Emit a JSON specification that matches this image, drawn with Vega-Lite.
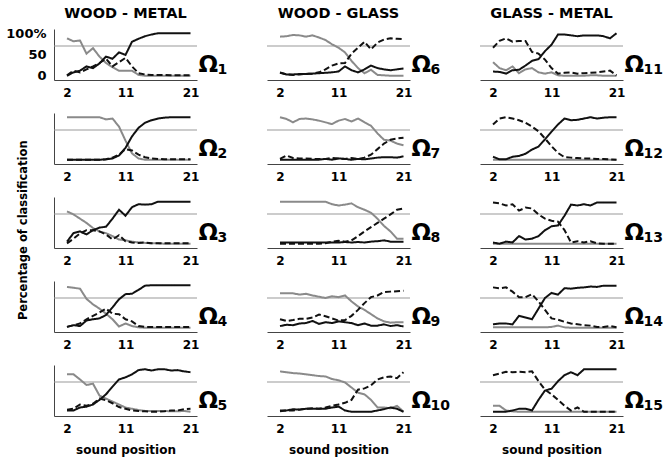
{
"$schema": "https://vega.github.io/schema/vega-lite/v6.json",
"background": "white",
"padding": 5,
"title": {"text": "Percentage of classification", "orient": "left", "anchor": "middle", "font": "DejaVu Sans", "fontWeight": "bold", "fontSize": 11.5, "color": "#000000", "offset": -24},
"datasets": {"d": [
{"p":1,"x":2,"w":88,"m":0,"g":1},{"p":1,"x":3,"w":81,"m":8,"g":12},{"p":1,"x":4,"w":83,"m":12,"g":8},{"p":1,"x":5,"w":52,"m":22,"g":15},{"p":1,"x":6,"w":65,"m":18,"g":22},{"p":1,"x":7,"w":45,"m":29,"g":30},{"p":1,"x":8,"w":30,"m":45,"g":40},{"p":1,"x":9,"w":20,"m":40,"g":22},{"p":1,"x":10,"w":12,"m":55,"g":32},{"p":1,"x":11,"w":12,"m":49,"g":42},{"p":1,"x":12,"w":12,"m":80,"g":22},{"p":1,"x":13,"w":2,"m":87,"g":6},{"p":1,"x":14,"w":0,"m":93,"g":3},{"p":1,"x":15,"w":0,"m":97,"g":2},{"p":1,"x":16,"w":0,"m":100,"g":2},{"p":1,"x":17,"w":0,"m":100,"g":2},{"p":1,"x":18,"w":0,"m":100,"g":1},{"p":1,"x":19,"w":0,"m":100,"g":1},{"p":1,"x":20,"w":0,"m":100,"g":1},{"p":1,"x":21,"w":0,"m":100,"g":1},
{"p":2,"x":2,"w":100,"m":0,"g":0},{"p":2,"x":3,"w":100,"m":0,"g":0},{"p":2,"x":4,"w":100,"m":0,"g":0},{"p":2,"x":5,"w":100,"m":0,"g":0},{"p":2,"x":6,"w":100,"m":0,"g":0},{"p":2,"x":7,"w":100,"m":0,"g":0},{"p":2,"x":8,"w":95,"m":1,"g":1},{"p":2,"x":9,"w":97,"m":3,"g":5},{"p":2,"x":10,"w":78,"m":10,"g":12},{"p":2,"x":11,"w":45,"m":28,"g":25},{"p":2,"x":12,"w":15,"m":55,"g":22},{"p":2,"x":13,"w":3,"m":75,"g":12},{"p":2,"x":14,"w":0,"m":87,"g":6},{"p":2,"x":15,"w":0,"m":93,"g":3},{"p":2,"x":16,"w":0,"m":97,"g":2},{"p":2,"x":17,"w":0,"m":99,"g":1},{"p":2,"x":18,"w":0,"m":100,"g":1},{"p":2,"x":19,"w":0,"m":100,"g":1},{"p":2,"x":20,"w":0,"m":100,"g":1},{"p":2,"x":21,"w":0,"m":100,"g":1},
{"p":3,"x":2,"w":76,"m":5,"g":1},{"p":3,"x":3,"w":69,"m":25,"g":12},{"p":3,"x":4,"w":59,"m":29,"g":24},{"p":3,"x":5,"w":49,"m":22,"g":32},{"p":3,"x":6,"w":37,"m":32,"g":32},{"p":3,"x":7,"w":29,"m":38,"g":29},{"p":3,"x":8,"w":25,"m":40,"g":22},{"p":3,"x":9,"w":18,"m":59,"g":10},{"p":3,"x":10,"w":10,"m":80,"g":20},{"p":3,"x":11,"w":8,"m":66,"g":6},{"p":3,"x":12,"w":5,"m":86,"g":3},{"p":3,"x":13,"w":3,"m":93,"g":2},{"p":3,"x":14,"w":2,"m":92,"g":3},{"p":3,"x":15,"w":1,"m":93,"g":1},{"p":3,"x":16,"w":1,"m":99,"g":1},{"p":3,"x":17,"w":0,"m":99,"g":1},{"p":3,"x":18,"w":0,"m":99,"g":1},{"p":3,"x":19,"w":0,"m":99,"g":1},{"p":3,"x":20,"w":0,"m":99,"g":1},{"p":3,"x":21,"w":0,"m":99,"g":1},
{"p":4,"x":2,"w":96,"m":2,"g":2},{"p":4,"x":3,"w":94,"m":6,"g":6},{"p":4,"x":4,"w":92,"m":4,"g":10},{"p":4,"x":5,"w":68,"m":17,"g":20},{"p":4,"x":6,"w":55,"m":20,"g":28},{"p":4,"x":7,"w":45,"m":22,"g":36},{"p":4,"x":8,"w":33,"m":30,"g":45},{"p":4,"x":9,"w":20,"m":48,"g":33},{"p":4,"x":10,"w":3,"m":67,"g":32},{"p":4,"x":11,"w":10,"m":79,"g":20},{"p":4,"x":12,"w":4,"m":80,"g":15},{"p":4,"x":13,"w":1,"m":89,"g":4},{"p":4,"x":14,"w":0,"m":99,"g":2},{"p":4,"x":15,"w":0,"m":100,"g":2},{"p":4,"x":16,"w":0,"m":100,"g":2},{"p":4,"x":17,"w":0,"m":100,"g":2},{"p":4,"x":18,"w":0,"m":100,"g":2},{"p":4,"x":19,"w":0,"m":100,"g":2},{"p":4,"x":20,"w":0,"m":100,"g":2},{"p":4,"x":21,"w":0,"m":100,"g":2},
{"p":5,"x":2,"w":88,"m":3,"g":5},{"p":5,"x":3,"w":88,"m":3,"g":7},{"p":5,"x":4,"w":76,"m":10,"g":17},{"p":5,"x":5,"w":63,"m":12,"g":14},{"p":5,"x":6,"w":66,"m":17,"g":19},{"p":5,"x":7,"w":38,"m":28,"g":31},{"p":5,"x":8,"w":31,"m":41,"g":27},{"p":5,"x":9,"w":24,"m":59,"g":20},{"p":5,"x":10,"w":17,"m":76,"g":11},{"p":5,"x":11,"w":10,"m":81,"g":7},{"p":5,"x":12,"w":7,"m":88,"g":3},{"p":5,"x":13,"w":4,"m":98,"g":2},{"p":5,"x":14,"w":2,"m":100,"g":1},{"p":5,"x":15,"w":2,"m":97,"g":0},{"p":5,"x":16,"w":2,"m":100,"g":0},{"p":5,"x":17,"w":2,"m":100,"g":1},{"p":5,"x":18,"w":1,"m":97,"g":3},{"p":5,"x":19,"w":1,"m":98,"g":3},{"p":5,"x":20,"w":2,"m":95,"g":6},{"p":5,"x":21,"w":0,"m":93,"g":7},
{"p":6,"x":2,"w":92,"m":7,"g":8},{"p":6,"x":3,"w":93,"m":3,"g":3},{"p":6,"x":4,"w":96,"m":3,"g":2},{"p":6,"x":5,"w":95,"m":4,"g":3},{"p":6,"x":6,"w":92,"m":4,"g":5},{"p":6,"x":7,"w":95,"m":5,"g":5},{"p":6,"x":8,"w":90,"m":6,"g":8},{"p":6,"x":9,"w":84,"m":7,"g":15},{"p":6,"x":10,"w":74,"m":8,"g":24},{"p":6,"x":11,"w":66,"m":10,"g":29},{"p":6,"x":12,"w":55,"m":22,"g":30},{"p":6,"x":13,"w":35,"m":13,"g":52},{"p":6,"x":14,"w":18,"m":8,"g":66},{"p":6,"x":15,"w":6,"m":15,"g":80},{"p":6,"x":16,"w":14,"m":24,"g":62},{"p":6,"x":17,"w":2,"m":18,"g":78},{"p":6,"x":18,"w":1,"m":15,"g":85},{"p":6,"x":19,"w":0,"m":13,"g":88},{"p":6,"x":20,"w":0,"m":15,"g":87},{"p":6,"x":21,"w":0,"m":17,"g":86},
{"p":7,"x":2,"w":100,"m":0,"g":2},{"p":7,"x":3,"w":96,"m":0,"g":10},{"p":7,"x":4,"w":88,"m":0,"g":4},{"p":7,"x":5,"w":96,"m":0,"g":3},{"p":7,"x":6,"w":97,"m":0,"g":3},{"p":7,"x":7,"w":95,"m":0,"g":2},{"p":7,"x":8,"w":92,"m":0,"g":2},{"p":7,"x":9,"w":88,"m":2,"g":2},{"p":7,"x":10,"w":84,"m":0,"g":4},{"p":7,"x":11,"w":92,"m":3,"g":3},{"p":7,"x":12,"w":96,"m":2,"g":2},{"p":7,"x":13,"w":90,"m":0,"g":4},{"p":7,"x":14,"w":97,"m":2,"g":2},{"p":7,"x":15,"w":88,"m":1,"g":5},{"p":7,"x":16,"w":80,"m":3,"g":12},{"p":7,"x":17,"w":62,"m":5,"g":25},{"p":7,"x":18,"w":47,"m":6,"g":38},{"p":7,"x":19,"w":45,"m":6,"g":47},{"p":7,"x":20,"w":38,"m":5,"g":50},{"p":7,"x":21,"w":34,"m":8,"g":52},
{"p":8,"x":2,"w":99,"m":3,"g":0},{"p":8,"x":3,"w":99,"m":3,"g":0},{"p":8,"x":4,"w":99,"m":3,"g":0},{"p":8,"x":5,"w":99,"m":3,"g":0},{"p":8,"x":6,"w":99,"m":3,"g":0},{"p":8,"x":7,"w":99,"m":3,"g":0},{"p":8,"x":8,"w":99,"m":3,"g":0},{"p":8,"x":9,"w":99,"m":3,"g":1},{"p":8,"x":10,"w":93,"m":3,"g":5},{"p":8,"x":11,"w":90,"m":3,"g":7},{"p":8,"x":12,"w":92,"m":4,"g":5},{"p":8,"x":13,"w":95,"m":3,"g":8},{"p":8,"x":14,"w":86,"m":4,"g":18},{"p":8,"x":15,"w":80,"m":3,"g":29},{"p":8,"x":16,"w":73,"m":5,"g":39},{"p":8,"x":17,"w":59,"m":6,"g":49},{"p":8,"x":18,"w":42,"m":8,"g":59},{"p":8,"x":19,"w":29,"m":5,"g":69},{"p":8,"x":20,"w":12,"m":5,"g":80},{"p":8,"x":21,"w":12,"m":5,"g":83},
{"p":9,"x":2,"w":81,"m":4,"g":20},{"p":9,"x":3,"w":81,"m":7,"g":16},{"p":9,"x":4,"w":81,"m":6,"g":18},{"p":9,"x":5,"w":78,"m":10,"g":21},{"p":9,"x":6,"w":80,"m":11,"g":21},{"p":9,"x":7,"w":76,"m":16,"g":24},{"p":9,"x":8,"w":73,"m":9,"g":31},{"p":9,"x":9,"w":70,"m":13,"g":27},{"p":9,"x":10,"w":74,"m":11,"g":22},{"p":9,"x":11,"w":72,"m":15,"g":17},{"p":9,"x":12,"w":76,"m":13,"g":18},{"p":9,"x":13,"w":62,"m":11,"g":28},{"p":9,"x":14,"w":50,"m":6,"g":42},{"p":9,"x":15,"w":42,"m":10,"g":58},{"p":9,"x":16,"w":32,"m":5,"g":72},{"p":9,"x":17,"w":22,"m":5,"g":76},{"p":9,"x":18,"w":15,"m":8,"g":84},{"p":9,"x":19,"w":12,"m":4,"g":85},{"p":9,"x":20,"w":13,"m":6,"g":86},{"p":9,"x":21,"w":13,"m":3,"g":87},
{"p":10,"x":2,"w":95,"m":3,"g":1},{"p":10,"x":3,"w":93,"m":3,"g":3},{"p":10,"x":4,"w":91,"m":6,"g":3},{"p":10,"x":5,"w":90,"m":5,"g":5},{"p":10,"x":6,"w":88,"m":7,"g":7},{"p":10,"x":7,"w":86,"m":7,"g":8},{"p":10,"x":8,"w":84,"m":7,"g":7},{"p":10,"x":9,"w":83,"m":7,"g":10},{"p":10,"x":10,"w":77,"m":10,"g":14},{"p":10,"x":11,"w":74,"m":12,"g":17},{"p":10,"x":12,"w":69,"m":3,"g":21},{"p":10,"x":13,"w":57,"m":0,"g":28},{"p":10,"x":14,"w":45,"m":0,"g":52},{"p":10,"x":15,"w":41,"m":0,"g":55},{"p":10,"x":16,"w":28,"m":0,"g":62},{"p":10,"x":17,"w":10,"m":3,"g":76},{"p":10,"x":18,"w":10,"m":6,"g":81},{"p":10,"x":19,"w":8,"m":10,"g":83},{"p":10,"x":20,"w":14,"m":7,"g":79},{"p":10,"x":21,"w":0,"m":0,"g":93},
{"p":11,"x":2,"w":32,"m":10,"g":66},{"p":11,"x":3,"w":18,"m":9,"g":82},{"p":11,"x":4,"w":13,"m":5,"g":88},{"p":11,"x":5,"w":22,"m":13,"g":80},{"p":11,"x":6,"w":6,"m":14,"g":82},{"p":11,"x":7,"w":15,"m":24,"g":82},{"p":11,"x":8,"w":18,"m":35,"g":56},{"p":11,"x":9,"w":8,"m":39,"g":52},{"p":11,"x":10,"w":5,"m":58,"g":38},{"p":11,"x":11,"w":8,"m":73,"g":18},{"p":11,"x":12,"w":1,"m":97,"g":5},{"p":11,"x":13,"w":0,"m":97,"g":7},{"p":11,"x":14,"w":0,"m":95,"g":8},{"p":11,"x":15,"w":0,"m":93,"g":5},{"p":11,"x":16,"w":0,"m":95,"g":6},{"p":11,"x":17,"w":1,"m":95,"g":7},{"p":11,"x":18,"w":1,"m":95,"g":8},{"p":11,"x":19,"w":0,"m":93,"g":10},{"p":11,"x":20,"w":0,"m":88,"g":12},{"p":11,"x":21,"w":0,"m":100,"g":1},
{"p":12,"x":2,"w":0,"m":7,"g":83},{"p":12,"x":3,"w":0,"m":1,"g":97},{"p":12,"x":4,"w":0,"m":1,"g":100},{"p":12,"x":5,"w":0,"m":7,"g":97},{"p":12,"x":6,"w":0,"m":9,"g":93},{"p":12,"x":7,"w":0,"m":14,"g":87},{"p":12,"x":8,"w":0,"m":24,"g":78},{"p":12,"x":9,"w":0,"m":31,"g":67},{"p":12,"x":10,"w":0,"m":48,"g":50},{"p":12,"x":11,"w":0,"m":66,"g":32},{"p":12,"x":12,"w":0,"m":83,"g":16},{"p":12,"x":13,"w":0,"m":97,"g":6},{"p":12,"x":14,"w":0,"m":93,"g":5},{"p":12,"x":15,"w":0,"m":94,"g":4},{"p":12,"x":16,"w":0,"m":97,"g":3},{"p":12,"x":17,"w":0,"m":100,"g":3},{"p":12,"x":18,"w":0,"m":97,"g":2},{"p":12,"x":19,"w":0,"m":99,"g":2},{"p":12,"x":20,"w":0,"m":100,"g":1},{"p":12,"x":21,"w":0,"m":100,"g":0},
{"p":13,"x":2,"w":0,"m":3,"g":97},{"p":13,"x":3,"w":0,"m":0,"g":95},{"p":13,"x":4,"w":0,"m":5,"g":90},{"p":13,"x":5,"w":0,"m":3,"g":93},{"p":13,"x":6,"w":0,"m":18,"g":78},{"p":13,"x":7,"w":0,"m":10,"g":85},{"p":13,"x":8,"w":0,"m":12,"g":83},{"p":13,"x":9,"w":0,"m":18,"g":69},{"p":13,"x":10,"w":0,"m":32,"g":59},{"p":13,"x":11,"w":0,"m":41,"g":54},{"p":13,"x":12,"w":0,"m":43,"g":52},{"p":13,"x":13,"w":0,"m":66,"g":32},{"p":13,"x":14,"w":0,"m":92,"g":3},{"p":13,"x":15,"w":0,"m":90,"g":6},{"p":13,"x":16,"w":0,"m":93,"g":3},{"p":13,"x":17,"w":0,"m":90,"g":6},{"p":13,"x":18,"w":0,"m":97,"g":1},{"p":13,"x":19,"w":0,"m":97,"g":0},{"p":13,"x":20,"w":0,"m":97,"g":0},{"p":13,"x":21,"w":0,"m":97,"g":0},
{"p":14,"x":2,"w":1,"m":8,"g":95},{"p":14,"x":3,"w":1,"m":10,"g":93},{"p":14,"x":4,"w":1,"m":10,"g":95},{"p":14,"x":5,"w":1,"m":8,"g":85},{"p":14,"x":6,"w":1,"m":28,"g":72},{"p":14,"x":7,"w":1,"m":24,"g":72},{"p":14,"x":8,"w":1,"m":20,"g":79},{"p":14,"x":9,"w":1,"m":45,"g":62},{"p":14,"x":10,"w":1,"m":70,"g":42},{"p":14,"x":11,"w":2,"m":82,"g":22},{"p":14,"x":12,"w":5,"m":78,"g":19},{"p":14,"x":13,"w":1,"m":93,"g":14},{"p":14,"x":14,"w":0,"m":92,"g":10},{"p":14,"x":15,"w":0,"m":94,"g":8},{"p":14,"x":16,"w":0,"m":95,"g":6},{"p":14,"x":17,"w":0,"m":97,"g":5},{"p":14,"x":18,"w":0,"m":96,"g":2},{"p":14,"x":19,"w":0,"m":99,"g":2},{"p":14,"x":20,"w":0,"m":99,"g":4},{"p":14,"x":21,"w":0,"m":99,"g":1},
{"p":15,"x":2,"w":14,"m":0,"g":86},{"p":15,"x":3,"w":14,"m":0,"g":90},{"p":15,"x":4,"w":3,"m":0,"g":94},{"p":15,"x":5,"w":1,"m":3,"g":93},{"p":15,"x":6,"w":0,"m":7,"g":94},{"p":15,"x":7,"w":0,"m":7,"g":93},{"p":15,"x":8,"w":0,"m":3,"g":95},{"p":15,"x":9,"w":0,"m":28,"g":72},{"p":15,"x":10,"w":0,"m":50,"g":52},{"p":15,"x":11,"w":0,"m":54,"g":41},{"p":15,"x":12,"w":0,"m":72,"g":28},{"p":15,"x":13,"w":0,"m":86,"g":14},{"p":15,"x":14,"w":0,"m":93,"g":3},{"p":15,"x":15,"w":0,"m":86,"g":10},{"p":15,"x":16,"w":0,"m":100,"g":0},{"p":15,"x":17,"w":0,"m":100,"g":0},{"p":15,"x":18,"w":0,"m":100,"g":0},{"p":15,"x":19,"w":0,"m":100,"g":0},{"p":15,"x":20,"w":0,"m":100,"g":0},{"p":15,"x":21,"w":0,"m":100,"g":0}
]},
"data": {"name": "d"},
"config": {
  "view": {"stroke": null},
  "font": "DejaVu Sans",
  "axis": {"grid": false, "ticks": false, "domainColor": "#444444", "domainWidth": 1, "labelFont": "DejaVu Sans", "labelFontWeight": "bold", "labelFontSize": 12, "labelColor": "#000000", "titleFont": "DejaVu Sans", "titleFontWeight": "bold", "titleColor": "#000000", "labelFlush": false, "labelOverlap": false},
  "header": {"labelFont": "DejaVu Sans", "labelFontWeight": "bold", "labelFontSize": 14.5, "labelColor": "#000000"}
},
"spacing": 15,
"vconcat": [
{
 "transform": [{"filter": "(datum.p - 1) % 5 == 0"}, {"calculate": "datum.p <= 5 ? 'WOOD - METAL' : (datum.p <= 10 ? 'WOOD - GLASS' : 'GLASS - METAL')", "as": "c"}],
 "facet": {"column": {"field": "c", "type": "nominal", "sort": ["WOOD - METAL", "WOOD - GLASS", "GLASS - METAL"], "title": null, "header": {"labelPadding": 8}}},
 "spacing": 70, "bounds": "flush",
 "spec": {"width": 143, "height": 51, "layer": [
  {"transform": [{"filter": "datum.x == 2"}], "mark": {"type": "rule", "color": "#999999", "strokeWidth": 1}, "encoding": {"y": {"datum": 70, "type": "quantitative"}}},
  {"transform": [{"fold": ["w", "m", "g"], "as": ["s", "v"]}], "mark": {"type": "line", "strokeWidth": 2},
   "encoding": {
    "x": {"field": "x", "type": "quantitative", "scale": {"domain": [1, 21]}, "axis": {"values": [2, 11, 21], "tickCount": 5, "title": null, "labelPadding": 7}},
    "y": {"field": "v", "type": "quantitative", "scale": {"domain": [-4, 101]}, "axis": {"values": [0, 50, 100], "tickCount": 5, "labelExpr": "datum.value == 100 ? '100%' : datum.label", "title": null, "labelPadding": 8, "labelFontSize": 13}},
    "color": {"field": "s", "type": "nominal", "scale": {"domain": ["w", "m", "g"], "range": ["#8a8a8a", "#111111", "#111111"]}, "legend": null},
    "strokeDash": {"field": "s", "type": "nominal", "scale": {"domain": ["w", "m", "g"], "range": [[1, 0], [1, 0], [6, 3]]}, "legend": null}}},
  {"transform": [{"filter": "datum.x == 21"}], "mark": {"type": "text", "text": "Ω", "font": "DejaVu Sans", "fontWeight": "bold", "fontSize": 23, "align": "left", "baseline": "alphabetic", "dx": 8}, "encoding": {"x": {"datum": 21, "type": "quantitative"}, "y": {"datum": 8, "type": "quantitative"}}},
  {"transform": [{"filter": "datum.x == 21"}], "mark": {"type": "text", "font": "DejaVu Sans", "fontWeight": "bold", "fontSize": 14, "align": "left", "baseline": "alphabetic", "dx": 27, "dy": 2}, "encoding": {"x": {"datum": 21, "type": "quantitative"}, "y": {"datum": 8, "type": "quantitative"}, "text": {"field": "p", "type": "nominal"}}}
 ]}
},
{
 "transform": [{"filter": "(datum.p - 1) % 5 == 1"}, {"calculate": "datum.p <= 5 ? 'WOOD - METAL' : (datum.p <= 10 ? 'WOOD - GLASS' : 'GLASS - METAL')", "as": "c"}],
 "facet": {"column": {"field": "c", "type": "nominal", "sort": ["WOOD - METAL", "WOOD - GLASS", "GLASS - METAL"], "title": null, "header": {"labels": false}}},
 "spacing": 70, "bounds": "flush",
 "spec": {"width": 143, "height": 51, "layer": [
  {"transform": [{"filter": "datum.x == 2"}], "mark": {"type": "rule", "color": "#999999", "strokeWidth": 1}, "encoding": {"y": {"datum": 70, "type": "quantitative"}}},
  {"transform": [{"fold": ["w", "m", "g"], "as": ["s", "v"]}], "mark": {"type": "line", "strokeWidth": 2},
   "encoding": {
    "x": {"field": "x", "type": "quantitative", "scale": {"domain": [1, 21]}, "axis": {"values": [2, 11, 21], "tickCount": 5, "title": null, "labelPadding": 7}},
    "y": {"field": "v", "type": "quantitative", "scale": {"domain": [-4, 101]}, "axis": {"labels": false, "title": null}},
    "color": {"field": "s", "type": "nominal", "scale": {"domain": ["w", "m", "g"], "range": ["#8a8a8a", "#111111", "#111111"]}, "legend": null},
    "strokeDash": {"field": "s", "type": "nominal", "scale": {"domain": ["w", "m", "g"], "range": [[1, 0], [1, 0], [6, 3]]}, "legend": null}}},
  {"transform": [{"filter": "datum.x == 21"}], "mark": {"type": "text", "text": "Ω", "font": "DejaVu Sans", "fontWeight": "bold", "fontSize": 23, "align": "left", "baseline": "alphabetic", "dx": 8}, "encoding": {"x": {"datum": 21, "type": "quantitative"}, "y": {"datum": 8, "type": "quantitative"}}},
  {"transform": [{"filter": "datum.x == 21"}], "mark": {"type": "text", "font": "DejaVu Sans", "fontWeight": "bold", "fontSize": 14, "align": "left", "baseline": "alphabetic", "dx": 27, "dy": 2}, "encoding": {"x": {"datum": 21, "type": "quantitative"}, "y": {"datum": 8, "type": "quantitative"}, "text": {"field": "p", "type": "nominal"}}}
 ]}
},
{
 "transform": [{"filter": "(datum.p - 1) % 5 == 2"}, {"calculate": "datum.p <= 5 ? 'WOOD - METAL' : (datum.p <= 10 ? 'WOOD - GLASS' : 'GLASS - METAL')", "as": "c"}],
 "facet": {"column": {"field": "c", "type": "nominal", "sort": ["WOOD - METAL", "WOOD - GLASS", "GLASS - METAL"], "title": null, "header": {"labels": false}}},
 "spacing": 70, "bounds": "flush",
 "spec": {"width": 143, "height": 51, "layer": [
  {"transform": [{"filter": "datum.x == 2"}], "mark": {"type": "rule", "color": "#999999", "strokeWidth": 1}, "encoding": {"y": {"datum": 70, "type": "quantitative"}}},
  {"transform": [{"fold": ["w", "m", "g"], "as": ["s", "v"]}], "mark": {"type": "line", "strokeWidth": 2},
   "encoding": {
    "x": {"field": "x", "type": "quantitative", "scale": {"domain": [1, 21]}, "axis": {"values": [2, 11, 21], "tickCount": 5, "title": null, "labelPadding": 7}},
    "y": {"field": "v", "type": "quantitative", "scale": {"domain": [-4, 101]}, "axis": {"labels": false, "title": null}},
    "color": {"field": "s", "type": "nominal", "scale": {"domain": ["w", "m", "g"], "range": ["#8a8a8a", "#111111", "#111111"]}, "legend": null},
    "strokeDash": {"field": "s", "type": "nominal", "scale": {"domain": ["w", "m", "g"], "range": [[1, 0], [1, 0], [6, 3]]}, "legend": null}}},
  {"transform": [{"filter": "datum.x == 21"}], "mark": {"type": "text", "text": "Ω", "font": "DejaVu Sans", "fontWeight": "bold", "fontSize": 23, "align": "left", "baseline": "alphabetic", "dx": 8}, "encoding": {"x": {"datum": 21, "type": "quantitative"}, "y": {"datum": 8, "type": "quantitative"}}},
  {"transform": [{"filter": "datum.x == 21"}], "mark": {"type": "text", "font": "DejaVu Sans", "fontWeight": "bold", "fontSize": 14, "align": "left", "baseline": "alphabetic", "dx": 27, "dy": 2}, "encoding": {"x": {"datum": 21, "type": "quantitative"}, "y": {"datum": 8, "type": "quantitative"}, "text": {"field": "p", "type": "nominal"}}}
 ]}
},
{
 "transform": [{"filter": "(datum.p - 1) % 5 == 3"}, {"calculate": "datum.p <= 5 ? 'WOOD - METAL' : (datum.p <= 10 ? 'WOOD - GLASS' : 'GLASS - METAL')", "as": "c"}],
 "facet": {"column": {"field": "c", "type": "nominal", "sort": ["WOOD - METAL", "WOOD - GLASS", "GLASS - METAL"], "title": null, "header": {"labels": false}}},
 "spacing": 70, "bounds": "flush",
 "spec": {"width": 143, "height": 51, "layer": [
  {"transform": [{"filter": "datum.x == 2"}], "mark": {"type": "rule", "color": "#999999", "strokeWidth": 1}, "encoding": {"y": {"datum": 70, "type": "quantitative"}}},
  {"transform": [{"fold": ["w", "m", "g"], "as": ["s", "v"]}], "mark": {"type": "line", "strokeWidth": 2},
   "encoding": {
    "x": {"field": "x", "type": "quantitative", "scale": {"domain": [1, 21]}, "axis": {"values": [2, 11, 21], "tickCount": 5, "title": null, "labelPadding": 7}},
    "y": {"field": "v", "type": "quantitative", "scale": {"domain": [-4, 101]}, "axis": {"labels": false, "title": null}},
    "color": {"field": "s", "type": "nominal", "scale": {"domain": ["w", "m", "g"], "range": ["#8a8a8a", "#111111", "#111111"]}, "legend": null},
    "strokeDash": {"field": "s", "type": "nominal", "scale": {"domain": ["w", "m", "g"], "range": [[1, 0], [1, 0], [6, 3]]}, "legend": null}}},
  {"transform": [{"filter": "datum.x == 21"}], "mark": {"type": "text", "text": "Ω", "font": "DejaVu Sans", "fontWeight": "bold", "fontSize": 23, "align": "left", "baseline": "alphabetic", "dx": 8}, "encoding": {"x": {"datum": 21, "type": "quantitative"}, "y": {"datum": 8, "type": "quantitative"}}},
  {"transform": [{"filter": "datum.x == 21"}], "mark": {"type": "text", "font": "DejaVu Sans", "fontWeight": "bold", "fontSize": 14, "align": "left", "baseline": "alphabetic", "dx": 27, "dy": 2}, "encoding": {"x": {"datum": 21, "type": "quantitative"}, "y": {"datum": 8, "type": "quantitative"}, "text": {"field": "p", "type": "nominal"}}}
 ]}
},
{
 "transform": [{"filter": "(datum.p - 1) % 5 == 4"}, {"calculate": "datum.p <= 5 ? 'WOOD - METAL' : (datum.p <= 10 ? 'WOOD - GLASS' : 'GLASS - METAL')", "as": "c"}],
 "facet": {"column": {"field": "c", "type": "nominal", "sort": ["WOOD - METAL", "WOOD - GLASS", "GLASS - METAL"], "title": null, "header": {"labels": false}}},
 "spacing": 70, "bounds": "flush",
 "spec": {"width": 143, "height": 51, "layer": [
  {"transform": [{"filter": "datum.x == 2"}], "mark": {"type": "rule", "color": "#999999", "strokeWidth": 1}, "encoding": {"y": {"datum": 70, "type": "quantitative"}}},
  {"transform": [{"fold": ["w", "m", "g"], "as": ["s", "v"]}], "mark": {"type": "line", "strokeWidth": 2},
   "encoding": {
    "x": {"field": "x", "type": "quantitative", "scale": {"domain": [1, 21]}, "axis": {"values": [2, 11, 21], "tickCount": 5, "title": "sound position", "titleFontSize": 12, "titlePadding": 10, "labelPadding": 7}},
    "y": {"field": "v", "type": "quantitative", "scale": {"domain": [-4, 101]}, "axis": {"labels": false, "title": null}},
    "color": {"field": "s", "type": "nominal", "scale": {"domain": ["w", "m", "g"], "range": ["#8a8a8a", "#111111", "#111111"]}, "legend": null},
    "strokeDash": {"field": "s", "type": "nominal", "scale": {"domain": ["w", "m", "g"], "range": [[1, 0], [1, 0], [6, 3]]}, "legend": null}}},
  {"transform": [{"filter": "datum.x == 21"}], "mark": {"type": "text", "text": "Ω", "font": "DejaVu Sans", "fontWeight": "bold", "fontSize": 23, "align": "left", "baseline": "alphabetic", "dx": 8}, "encoding": {"x": {"datum": 21, "type": "quantitative"}, "y": {"datum": 8, "type": "quantitative"}}},
  {"transform": [{"filter": "datum.x == 21"}], "mark": {"type": "text", "font": "DejaVu Sans", "fontWeight": "bold", "fontSize": 14, "align": "left", "baseline": "alphabetic", "dx": 27, "dy": 2}, "encoding": {"x": {"datum": 21, "type": "quantitative"}, "y": {"datum": 8, "type": "quantitative"}, "text": {"field": "p", "type": "nominal"}}}
 ]}
}
]
}
